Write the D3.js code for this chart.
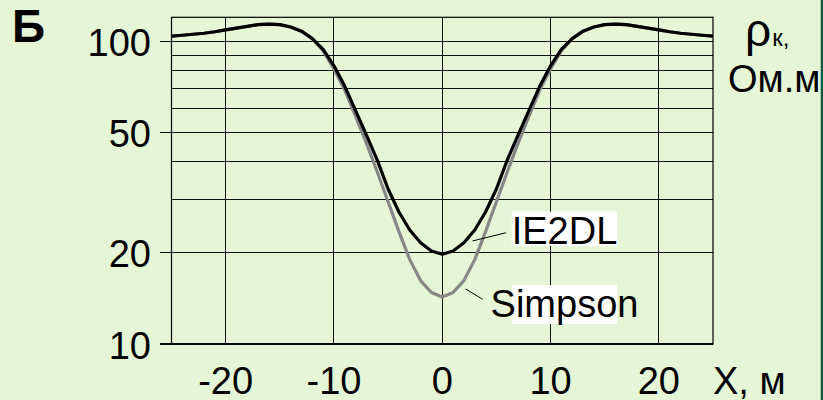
<!DOCTYPE html>
<html>
<head>
<meta charset="utf-8">
<script src="https://cdn.jsdelivr.net/npm/d3@7"></script>
<style>
  html, body { margin: 0; padding: 0; background: #E4F6D5; }
  svg { display: block; }
  text { font-family: Arial, "Liberation Sans", sans-serif; fill: #000; }
</style>
</head>
<body>
<svg id="chart" width="823" height="400"></svg>
<script>
// Profile positions, m
const positions = d3.range(-25, 26);

// Apparent resistivity, Ohm·m — IE2DL inversion result
const ie2dl = [
  104.0, 104.7, 105.5, 106.3, 107.5, 109.0, 110.5, 112.0, 113.5, 114.0,
  113.5, 111.5, 108.0, 102.0, 94.0, 83.0, 71.0, 59.0, 49.0, 40.5,
  32.5, 27.3, 23.8, 21.6, 20.3, 19.8, 20.3, 21.6, 23.8, 27.3,
  32.5, 40.5, 49.0, 59.0, 71.0, 83.0, 94.0, 102.0, 108.0, 111.5,
  113.5, 114.0, 113.5, 112.0, 110.5, 109.0, 107.5, 106.3, 105.5, 104.7,
  104.0
];

// Apparent resistivity, Ohm·m — Simpson calculation
const simpson = [
  104.0, 104.7, 105.5, 106.3, 107.5, 109.0, 110.5, 112.0, 113.5, 114.0,
  113.5, 111.5, 108.0, 102.0, 93.0, 81.0, 69.0, 56.5, 46.0, 37.0,
  29.5, 23.5, 19.0, 16.2, 14.8, 14.3, 14.8, 16.2, 19.0, 23.5,
  29.5, 37.0, 46.0, 56.5, 69.0, 81.0, 93.0, 102.0, 108.0, 111.5,
  113.5, 114.0, 113.5, 112.0, 110.5, 109.0, 107.5, 106.3, 105.5, 104.7,
  104.0
];

const xTicks = [-20, -10, 0, 10, 20];
const yTickLabels = [10, 20, 50, 100];
const yGrid = [20, 30, 40, 50, 60, 70, 80, 90, 100];

const svg = d3.select("#chart");
const W = 823, H = 400;

svg.append("rect").attr("width", W).attr("height", H).attr("fill", "#E4F6D5");

const x = d3.scaleLinear().domain([-25, 25]).range([171.5, 713]);
const y = d3.scaleLog().domain([10, 120]).range([344, 17.3]);

const FONT = 38;

// grid
const grid = svg.append("g").attr("stroke", "#111").attr("stroke-width", 1)
  .attr("shape-rendering", "crispEdges");
grid.selectAll("line.h").data(yGrid).join("line")
  .attr("x1", d => yTickLabels.includes(d) ? 160 : x(-25))
  .attr("x2", x(25))
  .attr("y1", d => y(d)).attr("y2", d => y(d));
grid.selectAll("line.v").data(xTicks).join("line")
  .attr("x1", d => x(d)).attr("x2", d => x(d))
  .attr("y1", y(120)).attr("y2", y(10));

// frame
svg.append("rect")
  .attr("x", x(-25)).attr("y", y(120))
  .attr("width", x(25) - x(-25)).attr("height", y(10) - y(120))
  .attr("fill", "none").attr("stroke", "#000").attr("stroke-width", 1.2);
svg.append("line")
  .attr("x1", 160).attr("x2", x(25)).attr("y1", y(10)).attr("y2", y(10))
  .attr("stroke", "#000").attr("stroke-width", 2);

// y tick labels
svg.append("g").selectAll("text").data(yTickLabels).join("text")
  .attr("x", 151).attr("y", d => y(d) + 14.5)
  .attr("text-anchor", "end").attr("font-size", FONT)
  .text(d => d);

// x tick labels
svg.append("g").selectAll("text").data(xTicks).join("text")
  .attr("x", d => x(d)).attr("y", 394)
  .attr("text-anchor", "middle").attr("font-size", FONT)
  .text(d => d);

// curves
const line = d3.line().x((d, i) => x(positions[i])).y(d => y(d));
svg.append("path").datum(simpson).attr("d", line)
  .attr("fill", "none").attr("stroke", "#878787").attr("stroke-width", 3.2)
  .attr("stroke-linejoin", "round");
svg.append("path").datum(ie2dl).attr("d", line)
  .attr("fill", "none").attr("stroke", "#000").attr("stroke-width", 3.2)
  .attr("stroke-linejoin", "round");

// curve labels with leader lines
const labels = [
  { text: "IE2DL", from: [2.8, 21.9], to: [5.88, 23.3], boxTop: 211.7, boxBottom: 246, base: 244 },
  { text: "Simpson", from: [2.16, 15.2], to: [3.73, 14.05], boxTop: 285, boxBottom: 324, base: 317 }
];
labels.forEach(l => {
  svg.append("line")
    .attr("x1", x(l.from[0])).attr("y1", y(l.from[1]))
    .attr("x2", x(l.to[0])).attr("y2", y(l.to[1]))
    .attr("stroke", "#000").attr("stroke-width", 1);
  svg.append("rect")
    .attr("x", 511.7).attr("y", l.boxTop)
    .attr("width", 105.5).attr("height", l.boxBottom - l.boxTop)
    .attr("fill", "#fff");
  svg.append("text")
    .attr("x", 564.5).attr("y", l.base)
    .attr("text-anchor", "middle").attr("font-size", FONT)
    .text(l.text);
});

// axis titles
svg.append("text").attr("x", 713).attr("y", 394).attr("font-size", FONT).text("X, м");

const yTitle = svg.append("text").attr("x", 745).attr("y", 46).attr("font-size", 46);
yTitle.append("tspan").text("ρ");
yTitle.append("tspan").attr("font-size", 24).attr("dx", 1).text("к,");
svg.append("text").attr("x", 728).attr("y", 92).attr("font-size", FONT).text("Ом.м");

// panel letter
svg.append("text").attr("x", 12).attr("y", 42).attr("font-size", 46)
  .attr("font-weight", "bold").text("Б");

// slide edge strip
svg.append("rect").attr("x", 820.7).attr("y", 0).attr("width", 3).attr("height", H)
  .attr("fill", "#0E5A45");
</script>
</body>
</html>
